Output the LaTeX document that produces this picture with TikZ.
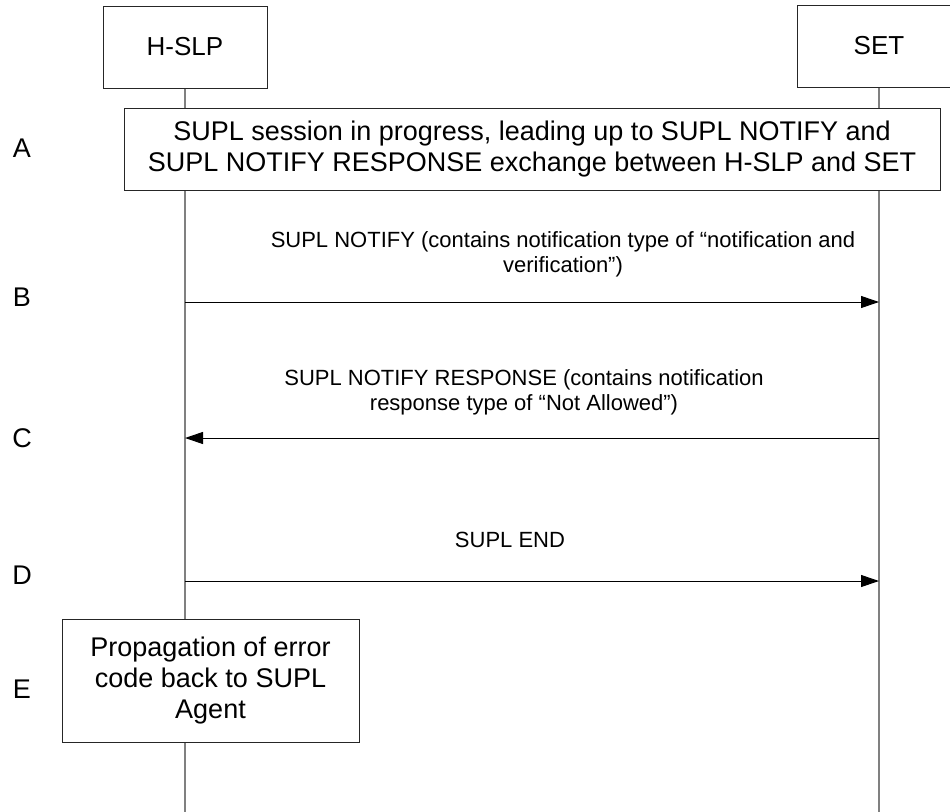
\documentclass[tikz,border=0pt]{standalone}
\usepackage{fontspec}
\setmainfont{Liberation Sans}
\usetikzlibrary{arrows.meta}
\begin{document}
\begin{tikzpicture}[x=1pt,y=-1pt,
  hdr/.style={draw=black!85, line width=1pt, fill=white, minimum width=164pt, minimum height=82pt, font=\fontsize{26}{29}\selectfont, inner sep=0pt},
  actbox/.style={draw=black!85, line width=1pt, fill=white, align=center, font=\fontsize{27}{31}\selectfont, inner sep=0pt},
  lbl/.style={font=\fontsize{27}{30}\selectfont, inner sep=0pt},
  msgtxt/.style={align=center, font=\fontsize{22}{25}\selectfont, inner sep=0pt},
  life/.style={draw=gray, line width=2pt},
  msg/.style={draw=black, line width=1pt, -{Triangle[length=18pt,width=12pt]}}]
\clip (0,0) rectangle (950,811);
\fill[white] (0,0) rectangle (950,811);
% lifeline heads
\node[hdr] (hslp) at (185,47) {H-SLP};
\node[hdr] (set) at (879,46) {SET};
\coordinate (hslpend) at (185,815);
\coordinate (setend) at (879,815);
\draw[life] (hslp.south) -- (hslpend);
\draw[life] (set.south) -- (setend);
% step labels
\node[lbl] (la) at (22,148) {A};
\node[lbl] (lb) at (22,297) {B};
\node[lbl] (lc) at (22,438) {C};
\node[lbl] (ld) at (22,575) {D};
\node[lbl] (le) at (22,689) {E};
% box A
\node[actbox, minimum width=816pt, minimum height=82pt] (boxa) at (532,149)
  {SUPL session in progress, leading up to SUPL NOTIFY and\\SUPL NOTIFY RESPONSE exchange between H-SLP and SET};
% message endpoints
\coordinate (b1) at (185,302);
\coordinate (b2) at (879,302);
\coordinate (c1) at (879,438);
\coordinate (c2) at (185,438);
\coordinate (d1) at (185,581);
\coordinate (d2) at (879,581);
\draw[msg] (b1) -- (b2);
\draw[msg] (c1) -- (c2);
\draw[msg] (d1) -- (d2);
\node[msgtxt] (tb) at (563,254.5) {SUPL NOTIFY (contains notification type of “notification and\\verification”)};
\node[msgtxt] (tc) at (524,392) {SUPL NOTIFY RESPONSE (contains notification\\response type of “Not Allowed”)};
\node[msgtxt] (td) at (510,540) {SUPL END};
% box E
\node[actbox, minimum width=297pt, minimum height=123pt] (boxe) at (210.5,680.5)
  {Propagation of error\\code back to SUPL\\Agent};
\end{tikzpicture}
\end{document}
